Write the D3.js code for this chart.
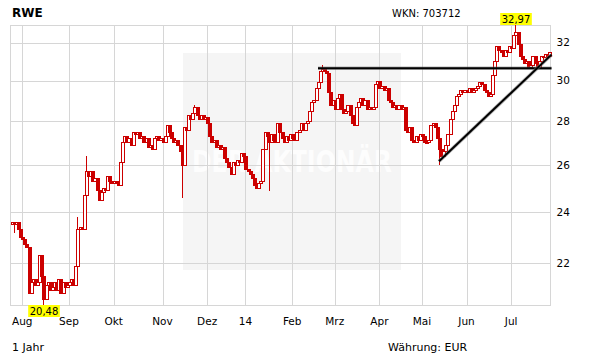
<!DOCTYPE html>
<html>
<head>
<meta charset="utf-8">
<script src="https://cdn.jsdelivr.net/npm/d3@7"></script>
<style>
body { margin: 0; background: #fff; }
svg { display: block; }
text { font-family: "DejaVu Sans", Verdana, sans-serif; fill: #000; }
</style>
</head>
<body>
<svg id="chart" width="611" height="364"></svg>
<script>
// RWE, 1 Jahr, Tageskerzen (Xetra)
const firstDay = "2013-07-25", lastDay = "2014-07-25";
const holidays = ["2013-12-24", "2013-12-25", "2013-12-26", "2013-12-31", "2014-01-01", "2014-04-18", "2014-04-21", "2014-05-01"];
const monthLabels = ["Aug", "Sep", "Okt", "Nov", "Dez", "14", "Feb", "Mrz", "Apr", "Mai", "Jun", "Jul"];
const yTicks = [22, 24, 26, 28, 30, 32];

const firstOpen = 23.5;
const closes = [
    23.6, 23.5, 23.6, 23.3, 23.0, 22.9, 22.7, 22.6, 20.9, 21.3,
    21.4, 21.2, 21.3, 22.3, 21.5, 20.7, 21.2, 21.3, 21.0, 21.1,
    21.3, 21.0, 21.4, 20.9, 21.3, 21.1, 21.2, 21.3, 21.4, 21.2,
    21.9, 23.3, 23.4, 23.3, 24.7, 25.7, 25.5, 25.7, 25.3, 25.4,
    24.9, 24.5, 24.8, 25.0, 24.9, 25.5, 25.3, 25.2, 25.3, 25.2,
    25.1, 26.1, 27.0, 27.3, 27.0, 27.2, 26.9, 27.5, 27.4, 27.5,
    27.2, 27.3, 27.0, 27.2, 26.8, 26.9, 26.7, 27.2, 27.3, 27.1,
    27.2, 27.0, 27.3, 27.8, 27.5, 27.2, 27.0, 27.1, 26.9, 26.6,
    26.0, 27.7, 27.6, 28.3, 28.1, 28.4, 28.7, 28.3, 28.1, 28.3,
    28.1, 28.2, 27.9, 27.3, 27.0, 27.1, 26.8, 26.9, 26.7, 26.8,
    26.3, 26.1, 25.9, 25.6, 26.1, 26.0, 26.2, 26.1, 26.5, 26.4,
    25.8, 25.7, 25.6, 25.4, 25.1, 25.0, 25.2, 25.3, 26.7, 27.5,
    27.3, 27.0, 27.4, 27.1, 27.0, 27.9, 27.5, 27.2, 27.0, 27.3,
    27.1, 27.4, 27.2, 27.1, 27.5, 27.6, 27.9, 27.6, 27.9, 28.0,
    28.5, 28.9, 29.0, 29.6, 29.9, 30.5, 30.6, 30.5, 30.4, 29.4,
    28.8, 29.0, 28.6, 29.1, 29.3, 28.6, 28.4, 28.5, 28.8, 28.3,
    27.9, 27.8, 28.7, 28.9, 29.1, 28.8, 29.0, 28.6, 28.7, 28.6,
    28.7, 29.8, 30.0, 29.6, 29.7, 29.5, 29.6, 29.0, 28.9, 28.7,
    28.8, 28.6, 28.8, 28.6, 28.7, 27.6, 27.5, 27.7, 27.1, 27.0,
    27.3, 27.1, 27.4, 27.3, 27.0, 27.0, 27.1, 27.8, 27.9, 27.7,
    27.2, 26.7, 26.4, 26.6, 26.9, 27.4, 28.1, 28.5, 28.8, 29.2,
    29.3, 29.5, 29.4, 29.5, 29.4, 29.6, 29.4, 29.5, 29.6, 29.7,
    29.9, 29.8, 29.5, 29.4, 29.2, 29.3, 30.3, 31.0, 31.8, 31.6,
    31.5, 31.3, 31.6, 31.5, 31.8, 31.7, 32.4, 32.6, 31.9, 31.3,
    31.1, 30.9, 31.0, 30.7, 30.8, 31.3, 30.9, 30.7, 31.0, 31.3,
    31.2, 31.4, 31.3, 31.5
];
// sichtbare Dochte: [Datum, Hoch, Tief]
const wicks = [
    ["2013-07-26", null, 23.2],
    ["2013-08-15", null, 20.48],
    ["2013-09-06", 23.8, null],
    ["2013-09-12", 26.4, null],
    ["2013-11-14", null, 24.6],
    ["2013-11-22", 28.8, null],
    ["2014-01-17", null, 24.9],
    ["2014-02-21", 30.8, null],
    ["2014-05-14", null, 26.05],
    ["2014-07-03", 32.97, null]
];
// Trendlinien: Startdatum, Startkurs, Kurs am rechten Rand
const trendFrom = ["2014-02-19", "2014-05-14"];
const trendStart = [30.63, 26.15];
const trendEnd = [30.63, 31.35];

const red = "#cc0000", grid = "#d6d6d6";
const plotLeft = 10.5, plotRight = 550.5, plotTop = 25, plotBottom = 305;

const fmt = d3.timeFormat("%Y-%m-%d"), parse = d3.timeParse("%Y-%m-%d");
const days = d3.timeDay.range(parse(firstDay), d3.timeDay.offset(parse(lastDay), 1))
    .filter(d => d.getDay() > 0 && d.getDay() < 6 && !holidays.includes(fmt(d)))
    .map(fmt);

const data = days.map((d, i) => {
    let o = i ? closes[i - 1] : firstOpen, c = closes[i];
    return {d: d, o: o, c: c, h: Math.max(o, c), l: Math.min(o, c)};
});
wicks.forEach(w => {
    let k = data.find(e => e.d === w[0]);
    if (!k) return;
    if (w[1] != null) k.h = w[1];
    if (w[2] != null) k.l = w[2];
});

const x = d3.scaleBand().domain(days).range([plotLeft, plotRight]);
const y = d3.scaleLog().domain([d3.min(data, d => d.l), d3.max(data, d => d.h)]).range([plotBottom, plotTop]);
const cx = d => Math.round(x(d) + x.bandwidth() / 2);
const py = v => Math.round(y(v));

// first trading day of each month
const monthStarts = days.filter((d, i) => i > 0 && d.slice(5, 7) !== days[i - 1].slice(5, 7));

const svg = d3.select("#chart");

// watermark background
svg.append("rect").attr("x", 183).attr("y", 53).attr("width", 218).attr("height", 217).attr("fill", "#f5f5f5");
svg.append("text").attr("x", 192).attr("y", 172).attr("textLength", 200).attr("lengthAdjust", "spacingAndGlyphs")
    .style("font-size", "30px").style("font-weight", "bold").style("fill", "#fdfdfd").text("DER AKTIONÄR");

// grid
const gGrid = svg.append("g").attr("shape-rendering", "crispEdges");
gGrid.selectAll("line.h").data(yTicks).join("line")
    .attr("x1", plotLeft).attr("x2", plotRight)
    .attr("y1", d => py(d) + 0.5).attr("y2", d => py(d) + 0.5)
    .attr("stroke", grid);
gGrid.selectAll("line.v").data(monthStarts).join("line")
    .attr("x1", d => cx(d) + 0.5).attr("x2", d => cx(d) + 0.5)
    .attr("y1", plotTop).attr("y2", plotBottom)
    .attr("stroke", grid);
gGrid.append("rect").attr("x", plotLeft).attr("y", plotTop + 0.5).attr("width", plotRight - plotLeft).attr("height", plotBottom - plotTop)
    .attr("fill", "none").attr("stroke", grid);

// candles
const gC = svg.append("g").attr("shape-rendering", "crispEdges");
gC.selectAll("line").data(data).join("line")
    .attr("x1", d => cx(d.d) + 0.5).attr("x2", d => cx(d.d) + 0.5)
    .attr("y1", d => py(d.h)).attr("y2", d => py(d.l) + 1)
    .attr("stroke", red);
gC.selectAll("rect").data(data).join("rect")
    .attr("x", d => cx(d.d) - 0.5).attr("width", 3)
    .attr("y", d => py(Math.max(d.o, d.c)) + 0.5)
    .attr("height", d => Math.max(py(Math.min(d.o, d.c)) - py(Math.max(d.o, d.c)), 1))
    .attr("fill", d => d.c >= d.o ? "#fff" : red)
    .attr("stroke", red);

// trend lines
const gT = svg.append("g");
trendFrom.forEach((d, i) => {
    let x1 = cx(d), y1 = y(trendStart[i]), x2 = plotRight + 1, y2 = y(trendEnd[i]);
    gT.append("line").attr("x1", x1).attr("y1", y1).attr("x2", x2).attr("y2", y2)
        .attr("stroke", "#777").attr("stroke-width", 3.6).attr("stroke-opacity", 0.55);
    gT.append("line").attr("x1", x1).attr("y1", y1).attr("x2", x2).attr("y2", y2)
        .attr("stroke", "#000").attr("stroke-width", 2);
});

// axes
const yAxis = svg.append("g").attr("transform", `translate(${plotRight},0)`)
    .call(d3.axisRight(y).tickValues(yTicks).tickSize(0).tickPadding(6).tickFormat(d3.format("d")));
const xAxis = svg.append("g").attr("transform", `translate(0,${plotBottom})`)
    .call(d3.axisBottom(x).tickValues(monthStarts).tickSize(0).tickPadding(13)
        .tickFormat((d, i) => monthLabels[i]));
[xAxis, yAxis].forEach(a => {
    a.select(".domain").remove();
    a.selectAll("text").style("font-size", "10.5px").style("font-family", "'DejaVu Sans', Verdana, sans-serif");
});

// high / low labels
const hi = data.reduce((a, b) => b.h > a.h ? b : a), lo = data.reduce((a, b) => b.l < a.l ? b : a);
[[hi, hi.h, plotTop - 12], [lo, lo.l, plotBottom]].forEach(p => {
    let g = svg.append("g");
    let t = g.append("text").attr("x", cx(p[0].d) + 1).attr("y", p[2] + 10).attr("text-anchor", "middle")
        .style("font-size", "10px").text(d3.format(".2f")(p[1]).replace(".", ","));
    let w = t.node().getComputedTextLength() + 3;
    g.insert("rect", "text").attr("x", cx(p[0].d) + 1 - w / 2).attr("y", p[2]).attr("width", w).attr("height", 12)
        .attr("fill", "#ffff00");
});

// texts
svg.append("text").attr("x", 12).attr("y", 17).style("font-size", "12px").style("font-weight", "bold").text("RWE");
svg.append("text").attr("x", 392).attr("y", 17).style("font-size", "10px").text("WKN: 703712");
svg.append("text").attr("x", 12).attr("y", 351).style("font-size", "11px").text("1 Jahr");
svg.append("text").attr("x", 388).attr("y", 351).style("font-size", "11px").text("Währung: EUR");
</script>
</body>
</html>
